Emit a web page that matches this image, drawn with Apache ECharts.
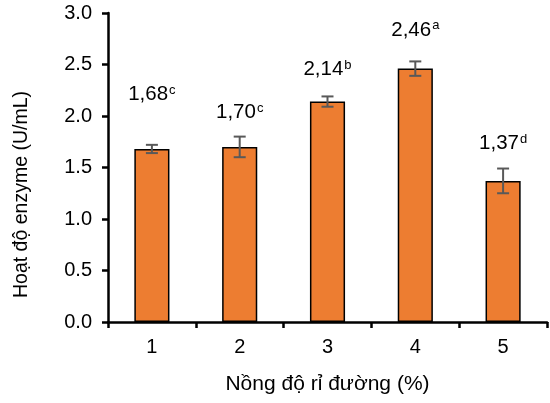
<!DOCTYPE html>
<html>
<head>
<meta charset="utf-8">
<script src="https://cdn.jsdelivr.net/npm/echarts@6/dist/echarts.min.js"></script>
<style>
  html, body { margin: 0; padding: 0; background: #fff; }
  #chart { width: 550px; height: 403px; }
</style>
</head>
<body>
<div id="chart"></div>
<script>
// Enzyme activity by molasses concentration
const categories = ['1', '2', '3', '4', '5'];
const activity = [1.68, 1.70, 2.14, 2.46, 1.37];
const errors = [0.04, 0.10, 0.05, 0.07, 0.12];
const letters = ['c', 'c', 'b', 'a', 'd'];
const yTicks = [0, 0.5, 1.0, 1.5, 2.0, 2.5, 3.0];

const FONT = 'Liberation Sans, Arial, sans-serif';
// extra lift of each value label above its error bar (px)
const labelLift = [39, 13, 16, 20, 14];

const barData = activity.map((v, i) => ({
  value: v,
  label: {
    show: true,
    position: 'top',
    distance: labelLift[i] + (errors[i] / 3.0) * 309,
    formatter: '{v|' + v.toFixed(2).replace('.', ',') + '}{s|' + letters[i] + '}',
    rich: {
      v: { fontFamily: FONT, fontSize: 20.5, color: '#000' },
      s: { fontFamily: FONT, fontSize: 13, color: '#000', verticalAlign: 'top', padding: [0, 0, 9, 1] }
    }
  }
}));

const chart = echarts.init(document.getElementById('chart'));
chart.setOption({
  animation: false,
  grid: { left: 108, right: 3, top: 13, bottom: 81, containLabel: false },
  xAxis: {
    type: 'category',
    data: categories,
    name: 'Nồng độ rỉ đường (%)',
    nameLocation: 'middle',
    nameGap: 52,
    nameTextStyle: { fontFamily: FONT, fontSize: 21, color: '#000' },
    axisLine: { lineStyle: { color: '#000', width: 2.5 } },
    axisTick: { show: true, length: 6, lineStyle: { color: '#000', width: 2.5 } },
    axisLabel: { fontFamily: FONT, fontSize: 20, color: '#000', margin: 15 }
  },
  yAxis: {
    type: 'value',
    min: yTicks[0],
    max: yTicks[yTicks.length - 1],
    interval: 0.5,
    name: 'Hoạt độ enzyme (U/mL)',
    nameLocation: 'middle',
    nameGap: 76,
    // title sits a little below the middle of the axis
    nameTextStyle: { fontFamily: FONT, fontSize: 19.5, color: '#000', padding: [0, 54, 0, 0] },
    axisLine: { show: true, lineStyle: { color: '#000', width: 2.5 } },
    axisTick: { show: true, length: 6, lineStyle: { color: '#000', width: 2.5 } },
    axisLabel: { fontFamily: FONT, fontSize: 20, color: '#000', margin: 16, formatter: v => v.toFixed(1) },
    splitLine: { show: false }
  },
  series: [
    {
      type: 'bar',
      data: barData,
      barWidth: '40%',
      itemStyle: { color: '#ED7D31', borderColor: '#000', borderWidth: 1.5 }
    },
    {
      // error bars: vertical whisker with caps
      type: 'custom',
      data: activity.map((v, i) => [i, v - errors[i], v + errors[i]]),
      z: 10,
      renderItem: function (params, api) {
        const lo = api.coord([api.value(0), api.value(1)]);
        const hi = api.coord([api.value(0), api.value(2)]);
        const x = lo[0];
        const cap = 6;
        const style = { stroke: '#595959', lineWidth: 2 };
        return {
          type: 'group',
          children: [
            { type: 'line', shape: { x1: x, y1: lo[1], x2: x, y2: hi[1] }, style },
            { type: 'line', shape: { x1: x - cap, y1: lo[1], x2: x + cap, y2: lo[1] }, style },
            { type: 'line', shape: { x1: x - cap, y1: hi[1], x2: x + cap, y2: hi[1] }, style }
          ]
        };
      }
    }
  ]
});
</script>
</body>
</html>
